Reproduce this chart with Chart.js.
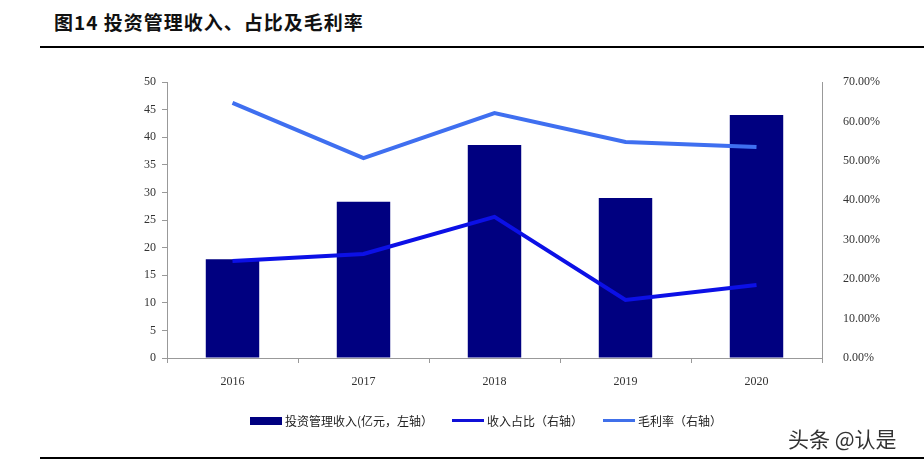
<!DOCTYPE html>
<html>
<head>
<meta charset="utf-8">
<script src="https://cdn.jsdelivr.net/npm/chart.js@4/dist/chart.umd.min.js"></script>
<style>
  body { margin: 0; background: #fff; width: 924px; height: 464px; overflow: hidden; position: relative; font-family: "Noto Sans CJK SC", sans-serif; }
  #title { position: absolute; left: 54px; top: 8px; font-size: 19px; font-weight: bold; color: #111; letter-spacing: 1px; }
  #topRule { position: absolute; left: 40px; right: 0; top: 46px; height: 2px; background: #000; }
  #bottomRule { position: absolute; left: 40px; right: 0; top: 457px; height: 2px; background: #000; }
  #chartBox { position: absolute; left: 0; top: 0; width: 924px; height: 464px; }
  .legend { position: absolute; top: 412px; font-size: 12px; color: #222; display: flex; align-items: center; }
  .legend .sw { display: inline-block; margin-right: 3px; }
  #mark { position: absolute; left: 788px; top: 423px; font-size: 21px; color: #333; }
</style>
</head>
<body>
<div id="title">图14 投资管理收入、占比及毛利率</div>
<div id="topRule"></div>
<div id="chartBox"><canvas id="chart" width="924" height="464"></canvas></div>
<div class="legend" style="left:250px"><span class="sw" style="width:32px;height:8px;background:#000080"></span>投资管理收入(亿元，左轴）</div>
<div class="legend" style="left:452px"><span class="sw" style="width:32px;height:3px;background:#1010d8"></span>收入占比（右轴）</div>
<div class="legend" style="left:603px"><span class="sw" style="width:32px;height:3px;background:#4070ea"></span>毛利率（右轴）</div>
<div id="mark">头条 @认是</div>
<div id="bottomRule"></div>
<script>
// 数据
const years = ['2016', '2017', '2018', '2019', '2020'];
const revenue = [17.9, 28.3, 38.6, 29.0, 44.0];        // 亿元
const revenueShare = [24.6, 26.4, 35.8, 14.7, 18.5];   // %
const grossMargin = [64.7, 50.7, 62.1, 54.8, 53.5];    // %
const leftTicks = [0, 5, 10, 15, 20, 25, 30, 35, 40, 45, 50];
const rightTicks = [0, 10, 20, 30, 40, 50, 60, 70];

const tickFont = { family: 'Liberation Serif', size: 12 };

new Chart(document.getElementById('chart'), {
    data: {
        labels: years,
        datasets: [{
            type: 'line',
            label: '毛利率（右轴）',
            data: grossMargin,
            yAxisID: 'y1',
            borderColor: '#3f6ff0',
            borderWidth: 4,
            pointRadius: 0,
            tension: 0,
            order: 1
        }, {
            type: 'line',
            label: '收入占比（右轴）',
            data: revenueShare,
            yAxisID: 'y1',
            borderColor: '#0c10e6',
            borderWidth: 4,
            pointRadius: 0,
            tension: 0,
            order: 2
        }, {
            type: 'bar',
            label: '投资管理收入(亿元，左轴）',
            data: revenue,
            yAxisID: 'y',
            backgroundColor: '#000080',
            categoryPercentage: 0.8,
            barPercentage: 0.51,
            order: 3
        }]
    },
    options: {
        responsive: false,
        animation: false,
        layout: { padding: { top: 82 } },
        plugins: {
            legend: { display: false },
            tooltip: { enabled: false }
        },
        scales: {
            x: {
                offset: true,
                grid: { display: true, drawOnChartArea: false, offset: true, tickLength: 5, color: '#999' },
                border: { color: '#999', width: 1 },
                ticks: { font: tickFont, color: '#333', padding: 12 },
                afterFit: function(scale) { scale.height = 106; }
            },
            y: {
                position: 'left',
                min: 0,
                max: 50,
                afterBuildTicks: function(scale) { scale.ticks = leftTicks.map(v => ({ value: v })); },
                grid: { display: true, drawOnChartArea: false, tickLength: 5, color: '#999' },
                border: { color: '#999', width: 1 },
                ticks: { font: tickFont, color: '#333', padding: 6 },
                afterFit: function(scale) { scale.width = 167; }
            },
            y1: {
                position: 'right',
                min: 0,
                max: 70,
                afterBuildTicks: function(scale) { scale.ticks = rightTicks.map(v => ({ value: v })); },
                grid: { display: false },
                border: { color: '#999', width: 1 },
                ticks: {
                    font: tickFont,
                    color: '#333',
                    padding: 13,
                    callback: function(value) { return value.toFixed(2) + '%'; }
                },
                afterFit: function(scale) { scale.width = 102; }
            }
        }
    }
});
</script>
</body>
</html>
